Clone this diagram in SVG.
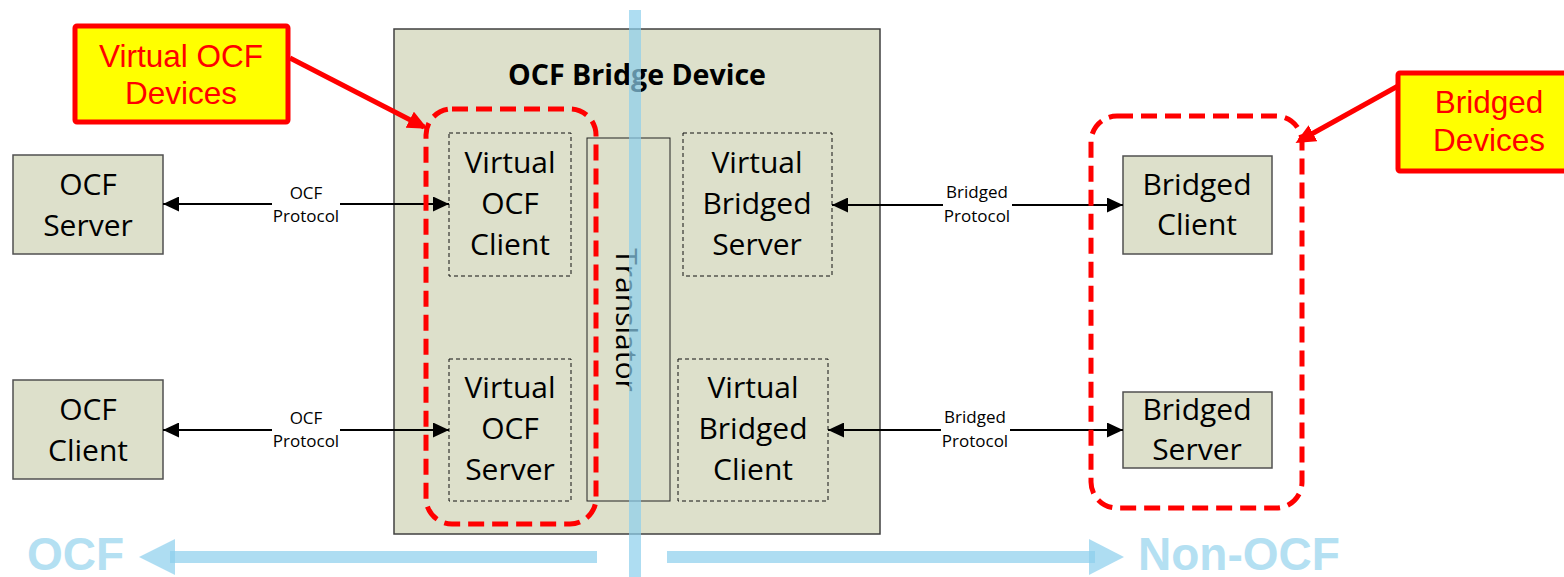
<svg xmlns="http://www.w3.org/2000/svg" width="1564" height="577" viewBox="0 0 1564 577">
<style>
.node{fill:#DDE0CB;stroke:#505050;stroke-width:1.5}
.vnode{fill:#DDE0CB;stroke:#111;stroke-width:1;stroke-dasharray:4 3}
.t{font-family:"Open Sans","Noto Sans",sans-serif;font-size:30px;fill:#000;text-anchor:middle}
.lbl{font-family:"Open Sans","Noto Sans",sans-serif;font-size:17px;fill:#000;text-anchor:middle}
.conn{fill:none;stroke:#000;stroke-width:2}
.grp{fill:none;stroke:#FF0000;stroke-width:5;stroke-dasharray:16 8}
.callout{fill:#FFFF00;stroke:#FF0000;stroke-width:5}
.ct{font-family:"Liberation Sans",Arial,sans-serif;font-size:31.5px;fill:#FF0000;text-anchor:middle}
.side{fill:#8CCFEC;opacity:0.7}
.sidet{font-family:"Liberation Sans",Arial,sans-serif;font-weight:bold;font-size:46px;fill:#B4E0F2}
</style>
<defs>
<marker id="ah" markerUnits="userSpaceOnUse" markerWidth="16" markerHeight="15" refX="16" refY="7.5" orient="auto-start-reverse" viewBox="0 0 16 15">
<path d="M0,0 L16,7.5 L0,15 z" fill="#000"/>
</marker>
<marker id="rah" markerUnits="userSpaceOnUse" markerWidth="20" markerHeight="18" refX="16" refY="9" orient="auto" viewBox="0 0 20 18">
<path d="M0,0 L20,9 L0,18 z" fill="#FF0000"/>
</marker>
</defs>
<rect width="1564" height="577" fill="#FFFFFF"/>

<g id="bridge-device">
<rect x="394" y="29" width="486" height="505" fill="#DDE0CB" stroke="#404040" stroke-width="1.5"/>
<text x="637" y="85" font-family="Open Sans, Noto Sans, sans-serif" font-weight="bold" font-size="28" text-anchor="middle" textLength="258" lengthAdjust="spacingAndGlyphs">OCF Bridge Device</text>
</g>

<g id="translator">
<rect x="587" y="138" width="83" height="363" fill="#DDE0CB" stroke="#222" stroke-width="1"/>
<text class="t" transform="translate(616,320) rotate(90)" x="0" y="0">Translator</text>
</g>

<g id="virtual-ocf-client">
<rect class="vnode" x="449" y="133" width="122" height="143"/>
<text class="t" x="510" y="173">Virtual</text>
<text class="t" x="510" y="214">OCF</text>
<text class="t" x="510" y="255">Client</text>
</g>
<g id="virtual-ocf-server">
<rect class="vnode" x="449" y="359" width="122" height="142"/>
<text class="t" x="510" y="398">Virtual</text>
<text class="t" x="510" y="439">OCF</text>
<text class="t" x="510" y="480">Server</text>
</g>
<g id="virtual-bridged-server">
<rect class="vnode" x="683" y="133" width="149" height="143"/>
<text class="t" x="757" y="173">Virtual</text>
<text class="t" x="757" y="214">Bridged</text>
<text class="t" x="757" y="255">Server</text>
</g>
<g id="virtual-bridged-client">
<rect class="vnode" x="678" y="359" width="150" height="142"/>
<text class="t" x="753" y="398">Virtual</text>
<text class="t" x="753" y="439">Bridged</text>
<text class="t" x="753" y="480">Client</text>
</g>

<g id="ocf-server">
<rect class="node" x="13" y="155" width="150" height="99"/>
<text class="t" x="88" y="195">OCF</text>
<text class="t" x="88" y="236">Server</text>
</g>
<g id="ocf-client">
<rect class="node" x="13" y="380" width="150" height="99"/>
<text class="t" x="88" y="420">OCF</text>
<text class="t" x="88" y="461">Client</text>
</g>
<g id="bridged-client">
<rect class="node" x="1123" y="156" width="149" height="98"/>
<text class="t" x="1197" y="195">Bridged</text>
<text class="t" x="1197" y="235">Client</text>
</g>
<g id="bridged-server">
<rect class="node" x="1123" y="392" width="149" height="76"/>
<text class="t" x="1197" y="420">Bridged</text>
<text class="t" x="1197" y="460">Server</text>
</g>

<g id="connectors">
<path class="conn" d="M163,204 H272 M340,204 H449" marker-start="url(#ah)" marker-end="url(#ah)"/>
<text class="lbl" x="306" y="199">OCF</text>
<text class="lbl" x="306" y="222">Protocol</text>
<path class="conn" d="M163,430 H272 M340,430 H449" marker-start="url(#ah)" marker-end="url(#ah)"/>
<text class="lbl" x="306" y="424">OCF</text>
<text class="lbl" x="306" y="447">Protocol</text>
<path class="conn" d="M832,205 H943 M1012,205 H1123" marker-start="url(#ah)" marker-end="url(#ah)"/>
<text class="lbl" x="977" y="198">Bridged</text>
<text class="lbl" x="977" y="222">Protocol</text>
<path class="conn" d="M828,430 H941 M1010,430 H1123" marker-start="url(#ah)" marker-end="url(#ah)"/>
<text class="lbl" x="975" y="423">Bridged</text>
<text class="lbl" x="975" y="447">Protocol</text>
</g>

<g id="virtual-ocf-devices-group">
<rect class="grp" x="426" y="109" width="170" height="415" rx="26"/>
</g>
<g id="bridged-devices-group">
<rect class="grp" x="1091" y="116" width="211" height="392" rx="26"/>
</g>

<g id="callout-virtual-ocf-devices">
<rect class="callout" x="75" y="26" width="213" height="96" rx="2"/>
<text class="ct" x="181" y="67">Virtual OCF</text>
<text class="ct" x="181" y="104">Devices</text>
<line x1="290" y1="58" x2="424" y2="127" stroke="#FF0000" stroke-width="5" marker-end="url(#rah)"/>
</g>
<g id="callout-bridged-devices">
<rect class="callout" x="1398" y="73" width="180" height="98" rx="2"/>
<text class="ct" x="1489" y="113">Bridged</text>
<text class="ct" x="1489" y="151">Devices</text>
<line x1="1398" y1="86" x2="1299" y2="141" stroke="#FF0000" stroke-width="5" marker-end="url(#rah)"/>
</g>

<g id="ocf-boundary">
<rect class="side" x="629" y="10" width="12" height="567"/>
<rect class="side" x="170" y="551" width="427" height="12"/>
<polygon class="side" points="139,557 175,539 175,575"/>
<rect class="side" x="667" y="551" width="428" height="12"/>
<polygon class="side" points="1124,557 1089,539 1089,575"/>
<text class="sidet" x="27" y="570">OCF</text>
<text class="sidet" x="1138" y="570">Non-OCF</text>
</g>
</svg>
